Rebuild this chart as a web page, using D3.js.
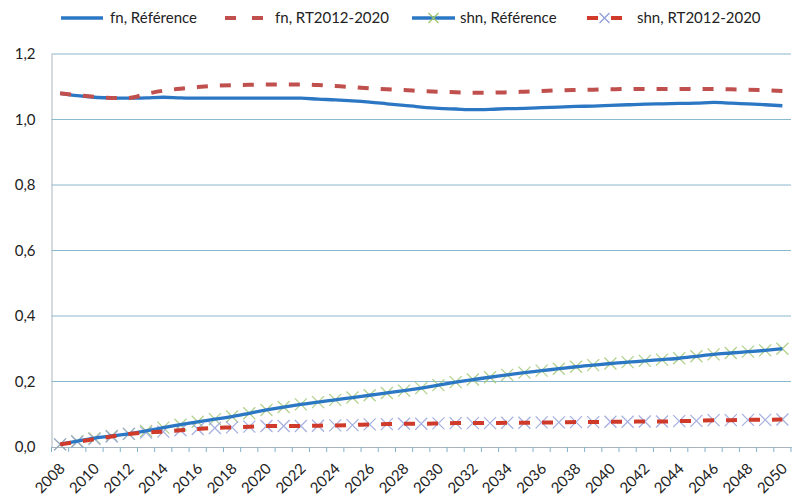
<!DOCTYPE html>
<html><head><meta charset="utf-8">
<script src="https://cdn.jsdelivr.net/npm/d3@7"></script>
<style>
body{margin:0;background:#fff;}
text{font-family:Lato,"Open Sans",sans-serif;fill:#222;}
</style></head>
<body><svg id="c" width="792" height="501"></svg>
<script>
const years = d3.range(2008, 2051);
const yTicks = [0, 0.2, 0.4, 0.6, 0.8, 1.0, 1.2];
const seriesNames = ["fn, Référence", "fn, RT2012-2020", "shn, Référence", "shn, RT2012-2020"];
const fnRef = [1.080,1.073,1.068,1.066,1.065,1.066,1.068,1.066,1.065,1.065,1.065,1.065,1.065,1.065,1.065,1.062,1.060,1.057,1.053,1.048,1.043,1.038,1.034,1.032,1.030,1.031,1.033,1.034,1.036,1.038,1.040,1.041,1.043,1.045,1.047,1.048,1.049,1.050,1.052,1.050,1.048,1.045,1.042];
const fnRT = [1.080,1.074,1.069,1.066,1.066,1.078,1.088,1.094,1.099,1.103,1.105,1.106,1.107,1.107,1.107,1.105,1.102,1.099,1.095,1.092,1.090,1.087,1.085,1.083,1.082,1.082,1.083,1.085,1.087,1.089,1.090,1.091,1.092,1.093,1.093,1.093,1.093,1.093,1.093,1.092,1.091,1.089,1.087];
const shnRef = [0.008,0.018,0.027,0.034,0.040,0.049,0.059,0.068,0.077,0.085,0.093,0.103,0.113,0.122,0.130,0.137,0.144,0.151,0.158,0.165,0.172,0.180,0.189,0.198,0.206,0.213,0.220,0.227,0.233,0.239,0.245,0.250,0.255,0.259,0.263,0.267,0.271,0.277,0.283,0.287,0.291,0.295,0.300];
const shnRT = [0.008,0.016,0.024,0.032,0.040,0.044,0.047,0.051,0.055,0.058,0.060,0.062,0.064,0.064,0.064,0.065,0.066,0.067,0.069,0.070,0.071,0.071,0.072,0.073,0.073,0.073,0.074,0.074,0.075,0.075,0.076,0.076,0.077,0.077,0.078,0.078,0.079,0.080,0.082,0.082,0.083,0.083,0.084];

const svg = d3.select("#c");
const L = 51.5, R = 791, T = 54, B = 447;
const x = d3.scaleBand().domain(years).range([L, R]);
const y = d3.scaleLinear().domain([0, 1.2]).range([B, T]);
const cx = d => x(d) + x.bandwidth()/2;

// gridlines
svg.append("g").selectAll("line").data(yTicks.filter(t => t > 0)).join("line")
  .attr("x1", L).attr("x2", R).attr("y1", d => y(d)).attr("y2", d => y(d))
  .attr("stroke", "#8ab8cf").attr("stroke-width", 1);

// y axis
const ya = svg.append("g").attr("transform", `translate(${L},0)`)
  .call(d3.axisLeft(y).tickValues(yTicks).tickSize(0).tickPadding(16)
    .tickFormat(d => d3.format(".1f")(d).replace(".", ",")));
ya.select(".domain").attr("stroke", "#a9b4bc");
ya.selectAll("text").attr("font-size", 15).attr("fill", "#222").style("font-family", "Lato, sans-serif");

// x axis
const xa = svg.append("g").attr("transform", `translate(0,${B})`)
  .call(d3.axisBottom(x).tickSize(0).tickFormat(""));
xa.select(".domain").attr("stroke", "#a9b4bc");
svg.append("g").selectAll("line").data(years.concat([2051])).join("line")
  .attr("x1", d => d === 2051 ? R : x(d)).attr("x2", d => d === 2051 ? R : x(d))
  .attr("y1", B).attr("y2", B + 5).attr("stroke", "#7fb3cc");
svg.append("g").selectAll("text").data(years.filter(d => d % 2 === 0)).join("text")
  .attr("transform", d => `translate(${cx(d) + 2},${B + 19}) rotate(-45)`)
  .attr("text-anchor", "end").attr("dy", "0.35em")
  .attr("font-size", 15).text(d => d);

// lines
const line = vals => d3.line().x((d, i) => cx(years[i])).y(d => y(d)).curve(d3.curveMonotoneX)(vals);
function drawMarkers(vals, color) {
  svg.append("g").selectAll("path").data(vals).join("path")
    .attr("d", (d, i) => { const px = cx(years[i]), py = y(d), s = 6;
      return `M${px-s},${py-s}L${px+s},${py+s}M${px-s},${py+s}L${px+s},${py-s}`; })
    .attr("stroke", color).attr("stroke-width", 1.2).attr("fill", "none").attr("opacity", 0.8);
}
drawMarkers(shnRef, "#9bc46a");
drawMarkers(shnRT, "#8d9ad8");
svg.append("path").attr("d", line(fnRef)).attr("fill", "none").attr("stroke", "#2c77c4").attr("stroke-width", 3.3);
svg.append("path").attr("d", line(fnRT)).attr("fill", "none").attr("stroke", "#c0504d").attr("stroke-width", 4).attr("stroke-dasharray", "11,12");
svg.append("path").attr("d", line(shnRef)).attr("fill", "none").attr("stroke", "#2c77c4").attr("stroke-width", 3.3);
svg.append("path").attr("d", line(shnRT)).attr("fill", "none").attr("stroke", "#d03a2a").attr("stroke-width", 4).attr("stroke-dasharray", "11,12");

// legend
const leg = [
  {name: seriesNames[0], x1: 61, x2: 103, tx: 110, color: "#2c77c4", dash: null, mk: null},
  {name: seriesNames[1], x1: 225, x2: 264, tx: 275, color: "#c0504d", dash: "11,16", mk: null},
  {name: seriesNames[2], x1: 412, x2: 455, tx: 460, color: "#2c77c4", dash: null, mk: "#9bc46a"},
  {name: seriesNames[3], x1: 587, x2: 622, tx: 637, color: "#d03a2a", dash: "11,13", mk: "#8d9ad8"}
];
const lg = svg.append("g");
leg.forEach(d => {
  const ly = 18;
  lg.append("line").attr("x1", d.x1).attr("x2", d.x2).attr("y1", ly).attr("y2", ly)
    .attr("stroke", d.color).attr("stroke-width", d.dash ? 4 : 3.3).attr("stroke-dasharray", d.dash);
  if (d.mk) {
    const m = (d.x1 + d.x2) / 2, s = 5;
    lg.append("path").attr("d", `M${m-s},${ly-s}L${m+s},${ly+s}M${m-s},${ly+s}L${m+s},${ly-s}`)
      .attr("stroke", d.mk).attr("stroke-width", 1.2);
  }
  lg.append("text").attr("x", d.tx).attr("y", ly).attr("dy", "0.35em").attr("font-size", 15).text(d.name);
});
</script></body></html>
